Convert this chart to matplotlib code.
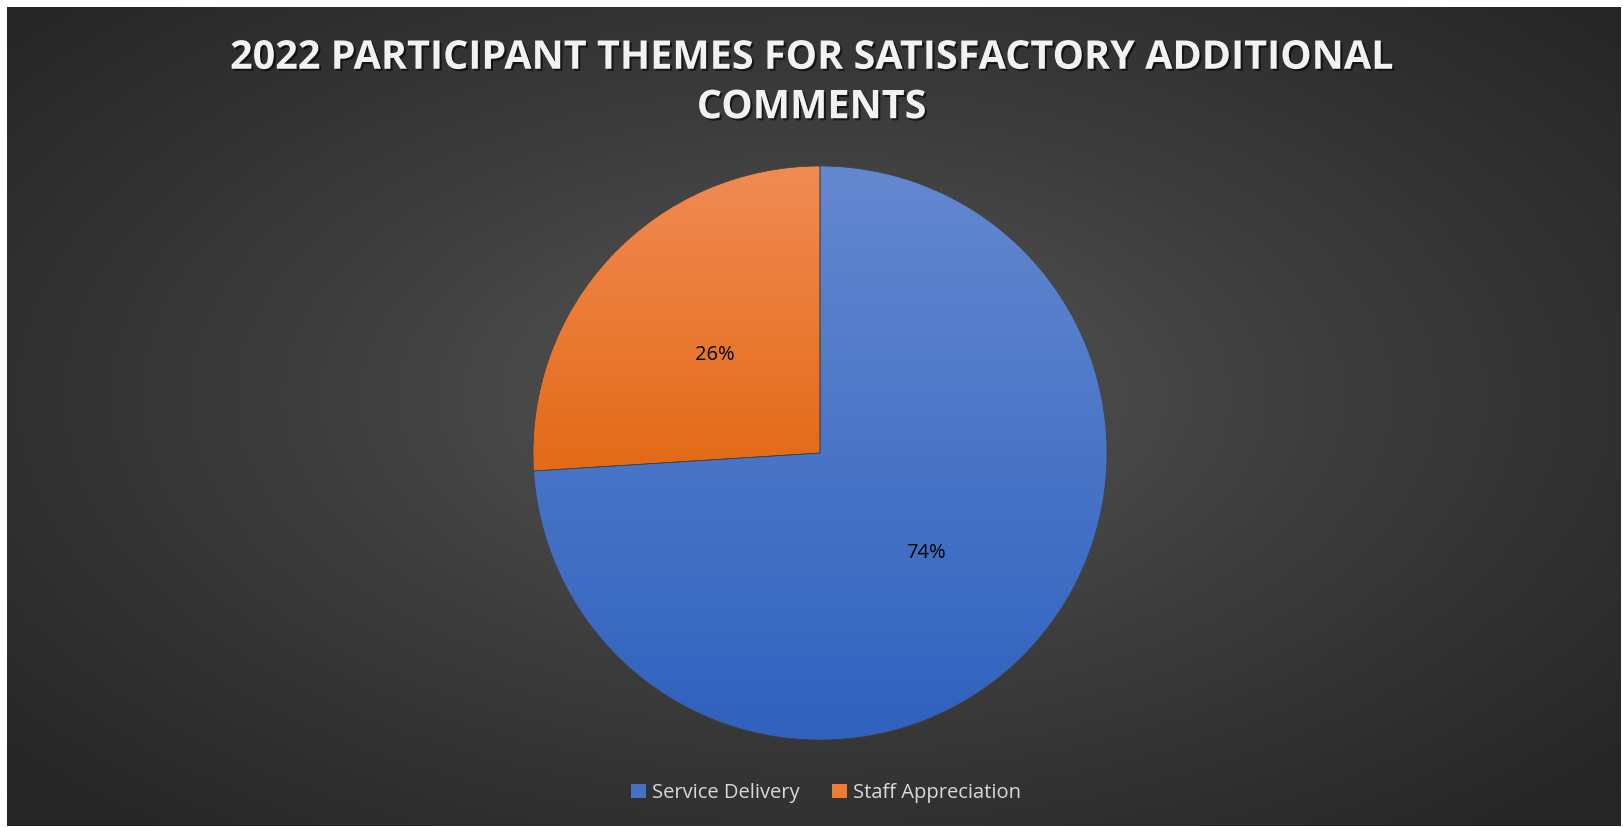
import numpy as np
import matplotlib
matplotlib.use("Agg")
import matplotlib.pyplot as plt
from matplotlib.colors import LinearSegmentedColormap
from matplotlib.patches import Patch
import matplotlib.patheffects as pe

# data
themes = ["Service Delivery", "Staff Appreciation"]
shares = [74, 26]
pct_labels = ["74%", "26%"]
title = "2022 PARTICIPANT THEMES FOR SATISFACTORY ADDITIONAL\nCOMMENTS"

# gradient ends per slice (top, bottom) and flat legend colours
slice_grad = [("#6488d0", "#2f62be"), ("#f18b54", "#e36a16")]
legend_cols = ["#4472c4", "#ed7d31"]

W, H = 1623, 827
fig = plt.figure(figsize=(W / 100, H / 100), dpi=100, facecolor="white")

# dark radial background, leaving a thin white frame like the screenshot
bg = fig.add_axes([7 / W, 1 / H, (W - 9) / W, (H - 8) / H])
bg.set_axis_off()
yy, xx = np.mgrid[-1:1:400j, -1:1:800j]
rr = np.clip(np.sqrt((xx * 0.95) ** 2 + ((yy + 0.05) * 0.9) ** 2), 0, 1.3)
bg_cmap = LinearSegmentedColormap.from_list("bg", ["#575757", "#3c3c3c", "#262626"])
bg.imshow(rr, cmap=bg_cmap, aspect="auto", extent=(0, 1, 0, 1), vmin=0, vmax=1.25)

# pie
cx, cy, rad = 820, 453, 287
ax = fig.add_axes([(cx - rad) / W, (H - cy - rad) / H, 2 * rad / W, 2 * rad / H])
wedges, _ = ax.pie(shares, startangle=90, counterclock=False, radius=1,
                   colors=legend_cols,
                   wedgeprops=dict(linewidth=0.5, edgecolor="#404040"))

# vertical gradient inside each slice
grad = np.linspace(0, 1, 256).reshape(-1, 1)
for w, (top, bot) in zip(wedges, slice_grad):
    ys = w.get_path().vertices[:, 1]
    cm = LinearSegmentedColormap.from_list("g", [bot, top])
    im = ax.imshow(grad, cmap=cm, origin="lower", aspect="auto",
                   extent=(-1, 1, ys.min(), ys.max()), zorder=w.get_zorder() + 0.1)
    im.set_clip_path(w)
ax.set_xlim(-1, 1)
ax.set_ylim(-1, 1)

# outline on top of gradients
for w in wedges:
    w.set_facecolor("none")
    w.set_zorder(5)

# percentage labels
lab_pos = [(926, 553), (715, 355)]
for (px, py), txt in zip(lab_pos, pct_labels):
    fig.text(px / W, 1 - py / H, txt, ha="center", va="center",
             fontsize=14.5, color="black", family="Open Sans")

# title
fig.text(0.5, 1 - 83 / H, title, ha="center", va="center", fontsize=28.5,
         fontweight="bold", color="#f2f2f2", family="Open Sans",
         linespacing=1.35,
         path_effects=[pe.withSimplePatchShadow(offset=(1.5, -1.5),
                                                shadow_rgbFace="black", alpha=0.6)])

# legend
handles = [Patch(facecolor=c, edgecolor="none") for c in legend_cols]
fig.legend(handles, themes, loc="center", bbox_to_anchor=(826 / W, 1 - 793 / H),
           ncol=2, frameon=False, labelcolor="#d9d9d9",
           handlelength=0.75, handleheight=0.75, handletextpad=0.3,
           columnspacing=1.6, prop={"family": "Open Sans", "size": 14.5})

fig.savefig("out.png", dpi=100, facecolor="white")
